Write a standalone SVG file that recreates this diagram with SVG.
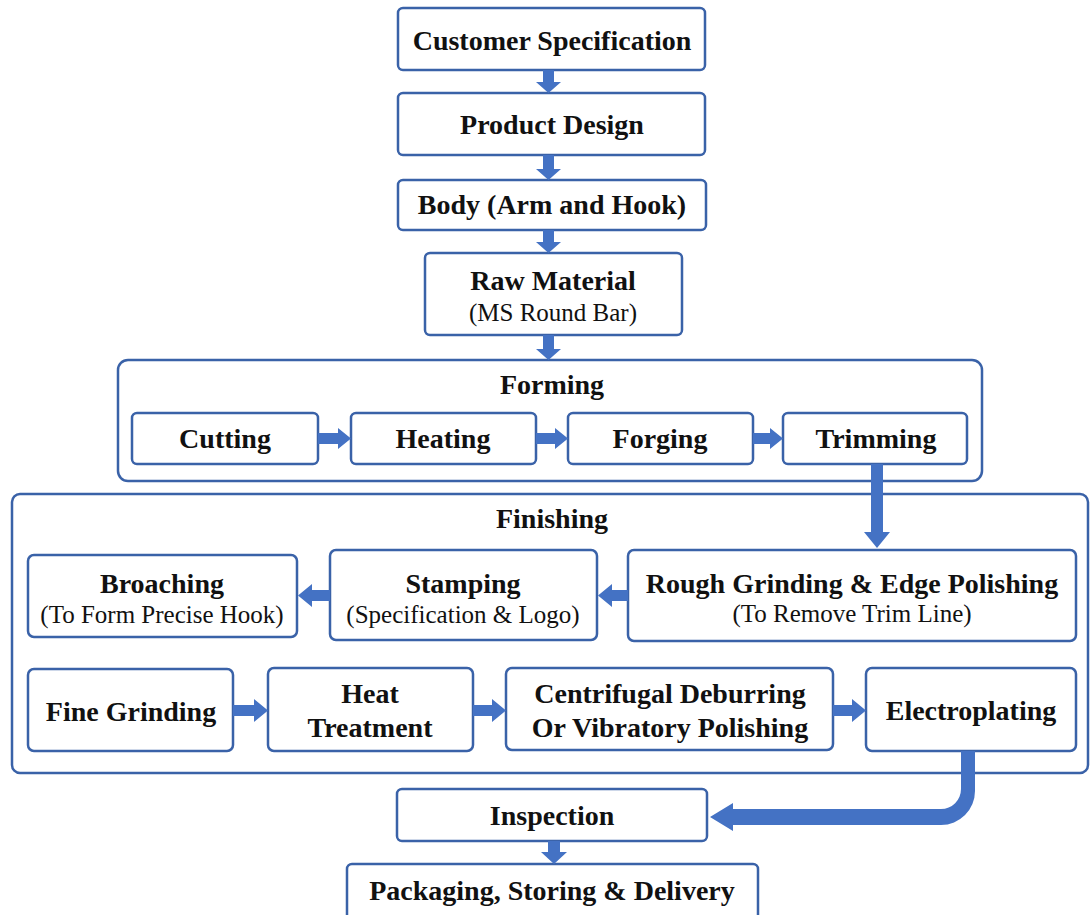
<svg xmlns="http://www.w3.org/2000/svg" width="1092" height="915" viewBox="0 0 1092 915">
<defs>
<style>
.box{fill:#fff;stroke:#3a62a8;stroke-width:2.5}
.grp{fill:#fff;stroke:#3a62a8;stroke-width:2.5}
.t{font-family:"Liberation Serif","Times New Roman",serif;font-weight:bold;font-size:28px;fill:#111;text-anchor:middle}
.s{font-family:"Liberation Serif","Times New Roman",serif;font-size:25px;fill:#111;text-anchor:middle}
.arr{fill:#4472c4}
</style>
</defs>
<rect width="1092" height="915" fill="#fff"/>
<g id="forming">
<rect class="grp" x="118" y="360" width="864" height="121" rx="10"/>
<text class="t" x="552" y="394">Forming</text>
</g>
<g id="finishing">
<rect class="grp" x="12" y="494" width="1076" height="279" rx="8"/>
<text class="t" x="552" y="528">Finishing</text>
</g>
<g id="customer"><rect class="box" x="398" y="8" width="307" height="62" rx="5"/><text class="t" x="552" y="50">Customer Specification</text></g>
<g id="design"><rect class="box" x="398" y="93" width="307" height="62" rx="5"/><text class="t" x="552" y="134">Product Design</text></g>
<g id="body"><rect class="box" x="398" y="180" width="308" height="50" rx="5"/><text class="t" x="552" y="214">Body (Arm and Hook)</text></g>
<g id="raw"><rect class="box" x="425" y="253" width="257" height="82" rx="5"/><text class="t" x="553" y="290">Raw Material</text><text class="s" x="553" y="321">(MS Round Bar)</text></g>
<g id="cutting"><rect class="box" x="132" y="413" width="186" height="51" rx="5"/><text class="t" x="225" y="448">Cutting</text></g>
<g id="heating"><rect class="box" x="351" y="413" width="185" height="51" rx="5"/><text class="t" x="443" y="448">Heating</text></g>
<g id="forging"><rect class="box" x="568" y="413" width="185" height="51" rx="5"/><text class="t" x="660" y="448">Forging</text></g>
<g id="trimming"><rect class="box" x="783" y="413" width="184" height="51" rx="5"/><text class="t" x="876" y="448">Trimming</text></g>
<g id="broaching"><rect class="box" x="28" y="555" width="269" height="82" rx="6"/><text class="t" x="162" y="593">Broaching</text><text class="s" x="162" y="623">(To Form Precise Hook)</text></g>
<g id="stamping"><rect class="box" x="330" y="550" width="267" height="90" rx="6"/><text class="t" x="463" y="593">Stamping</text><text class="s" x="463" y="623">(Specification &amp; Logo)</text></g>
<g id="rough"><rect class="box" x="628" y="550" width="448" height="91" rx="6"/><text class="t" x="852" y="593">Rough Grinding &amp; Edge Polishing</text><text class="s" x="852" y="622">(To Remove Trim Line)</text></g>
<g id="fine"><rect class="box" x="28" y="669" width="205" height="82" rx="6"/><text class="t" x="131" y="721">Fine Grinding</text></g>
<g id="heat"><rect class="box" x="268" y="668" width="205" height="83" rx="6"/><text class="t" x="370" y="703">Heat</text><text class="t" x="370" y="737">Treatment</text></g>
<g id="centrifugal"><rect class="box" x="506" y="668" width="327" height="82" rx="6"/><text class="t" x="670" y="703">Centrifugal Deburring</text><text class="t" x="670" y="737">Or Vibratory Polishing</text></g>
<g id="electroplating"><rect class="box" x="866" y="668" width="210" height="83" rx="6"/><text class="t" x="971" y="720">Electroplating</text></g>
<g id="inspection"><rect class="box" x="397" y="789" width="310" height="52" rx="5"/><text class="t" x="552" y="825">Inspection</text></g>
<g id="packaging"><rect class="box" x="347" y="864" width="411" height="60" rx="5"/><text class="t" x="552" y="900">Packaging, Storing &amp; Delivery</text></g>
<g id="connectors">
<path class="arr" d="M543,70 h11 v12 h7 l-12.5,11 l-12.5,-11 h7 z"/>
<path class="arr" d="M543,155 h11 v14 h7 l-12.5,11 l-12.5,-11 h7 z"/>
<path class="arr" d="M543,230 h11 v12 h7 l-12.5,11 l-12.5,-11 h7 z"/>
<path class="arr" d="M543,335 h11 v14 h7 l-12.5,11 l-12.5,-11 h7 z"/>
<path class="arr" d="M318,433 h20 v-5 l13,10.5 l-13,10.5 v-5 h-20 z"/>
<path class="arr" d="M536,433 h19 v-5 l13,10.5 l-13,10.5 v-5 h-19 z"/>
<path class="arr" d="M753,433 h17 v-5 l13,10.5 l-13,10.5 v-5 h-17 z"/>
<path class="arr" d="M871,464 h12 v68 h7 l-13,16 l-13,-16 h7 z"/>
<path class="arr" d="M628,590 h-16 v-6 l-14,11.5 l14,11.5 v-6 h16 z"/>
<path class="arr" d="M330,590 h-18 v-6 l-14,11.5 l14,11.5 v-6 h18 z"/>
<path class="arr" d="M233,705 h21 v-6 l14,11.5 l-14,11.5 v-6 h-21 z"/>
<path class="arr" d="M473,705 h19 v-6 l14,11.5 l-14,11.5 v-6 h-19 z"/>
<path class="arr" d="M833,705 h19 v-6 l14,11.5 l-14,11.5 v-6 h-19 z"/>
<path class="arr" d="M961,751 h14 v40 a34,34 0 0 1 -34,34 h-208 v6 l-23,-14 l23,-14 v6 h208 a20,20 0 0 0 20,-20 z"/>
<path class="arr" d="M548,841 h12 v11 h7 l-13,12 l-13,-12 h7 z"/>
</g>
</svg>
